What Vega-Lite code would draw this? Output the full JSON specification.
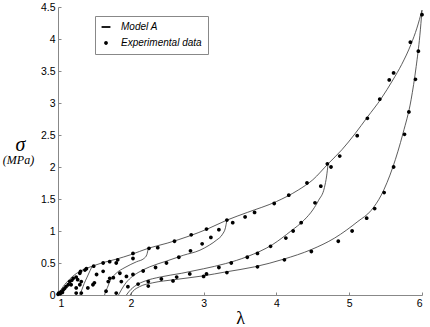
{
  "$schema": "https://vega.github.io/schema/vega-lite/v6.json",
  "width": 364,
  "height": 288,
  "autosize": {"type": "none"},
  "padding": {"left": 58, "top": 7, "right": 8, "bottom": 32},
  "background": "white",
  "config": {
    "view": {"stroke": null},
    "axis": {
      "domainColor": "#888",
      "tickColor": "#888",
      "grid": false,
      "labelFont": "Liberation Sans",
      "labelFontSize": 10.5,
      "labelColor": "black",
      "tickSize": -3,
      "labelPadding": 6,
      "format": "~g"
    }
  },
  "datasets": {
    "curves": [
      {"c": "env", "x": 1.00, "y": 0.00}, {"c": "env", "x": 1.03, "y": 0.06}, {"c": "env", "x": 1.07, "y": 0.13},
      {"c": "env", "x": 1.12, "y": 0.20}, {"c": "env", "x": 1.20, "y": 0.29}, {"c": "env", "x": 1.30, "y": 0.37},
      {"c": "env", "x": 1.40, "y": 0.42}, {"c": "env", "x": 1.47, "y": 0.45}, {"c": "env", "x": 1.60, "y": 0.50},
      {"c": "env", "x": 1.80, "y": 0.56}, {"c": "env", "x": 2.00, "y": 0.63}, {"c": "env", "x": 2.24, "y": 0.73},
      {"c": "env", "x": 2.50, "y": 0.81}, {"c": "env", "x": 2.80, "y": 0.92}, {"c": "env", "x": 3.05, "y": 1.03},
      {"c": "env", "x": 3.32, "y": 1.17}, {"c": "env", "x": 3.60, "y": 1.29}, {"c": "env", "x": 4.00, "y": 1.46},
      {"c": "env", "x": 4.30, "y": 1.64}, {"c": "env", "x": 4.50, "y": 1.80}, {"c": "env", "x": 4.71, "y": 2.05},
      {"c": "env", "x": 4.90, "y": 2.27}, {"c": "env", "x": 5.08, "y": 2.52}, {"c": "env", "x": 5.25, "y": 2.78},
      {"c": "env", "x": 5.44, "y": 3.07}, {"c": "env", "x": 5.60, "y": 3.36}, {"c": "env", "x": 5.72, "y": 3.60},
      {"c": "env", "x": 5.85, "y": 3.92}, {"c": "env", "x": 5.93, "y": 4.17}, {"c": "env", "x": 6.00, "y": 4.45},
      {"c": "u1", "x": 1.47, "y": 0.45}, {"c": "u1", "x": 1.44, "y": 0.38}, {"c": "u1", "x": 1.40, "y": 0.28},
      {"c": "u1", "x": 1.36, "y": 0.18}, {"c": "u1", "x": 1.33, "y": 0.09}, {"c": "u1", "x": 1.30, "y": 0.00},
      {"c": "u2", "x": 2.24, "y": 0.73}, {"c": "u2", "x": 2.22, "y": 0.63}, {"c": "u2", "x": 2.18, "y": 0.57},
      {"c": "u2", "x": 2.08, "y": 0.52}, {"c": "u2", "x": 1.92, "y": 0.43}, {"c": "u2", "x": 1.80, "y": 0.34},
      {"c": "u2", "x": 1.72, "y": 0.23}, {"c": "u2", "x": 1.68, "y": 0.12}, {"c": "u2", "x": 1.65, "y": 0.04},
      {"c": "u2", "x": 1.64, "y": 0.00},
      {"c": "u3", "x": 3.32, "y": 1.17}, {"c": "u3", "x": 3.30, "y": 1.05}, {"c": "u3", "x": 3.26, "y": 0.95},
      {"c": "u3", "x": 3.18, "y": 0.86}, {"c": "u3", "x": 3.08, "y": 0.78}, {"c": "u3", "x": 2.95, "y": 0.70},
      {"c": "u3", "x": 2.72, "y": 0.62}, {"c": "u3", "x": 2.49, "y": 0.53}, {"c": "u3", "x": 2.26, "y": 0.44},
      {"c": "u3", "x": 2.10, "y": 0.35}, {"c": "u3", "x": 2.00, "y": 0.27}, {"c": "u3", "x": 1.92, "y": 0.17},
      {"c": "u3", "x": 1.87, "y": 0.08}, {"c": "u3", "x": 1.83, "y": 0.00},
      {"c": "u4", "x": 4.71, "y": 2.05}, {"c": "u4", "x": 4.69, "y": 1.86}, {"c": "u4", "x": 4.66, "y": 1.68},
      {"c": "u4", "x": 4.58, "y": 1.48}, {"c": "u4", "x": 4.50, "y": 1.33}, {"c": "u4", "x": 4.38, "y": 1.17},
      {"c": "u4", "x": 4.20, "y": 1.00}, {"c": "u4", "x": 3.95, "y": 0.79}, {"c": "u4", "x": 3.60, "y": 0.60},
      {"c": "u4", "x": 3.30, "y": 0.49}, {"c": "u4", "x": 3.00, "y": 0.41}, {"c": "u4", "x": 2.70, "y": 0.34},
      {"c": "u4", "x": 2.40, "y": 0.28}, {"c": "u4", "x": 2.20, "y": 0.22}, {"c": "u4", "x": 2.07, "y": 0.15},
      {"c": "u4", "x": 1.98, "y": 0.06}, {"c": "u4", "x": 1.94, "y": 0.00},
      {"c": "u5", "x": 6.00, "y": 4.45}, {"c": "u5", "x": 5.97, "y": 4.05}, {"c": "u5", "x": 5.92, "y": 3.57},
      {"c": "u5", "x": 5.85, "y": 3.05}, {"c": "u5", "x": 5.74, "y": 2.53}, {"c": "u5", "x": 5.60, "y": 2.00},
      {"c": "u5", "x": 5.44, "y": 1.56}, {"c": "u5", "x": 5.30, "y": 1.32}, {"c": "u5", "x": 5.12, "y": 1.15},
      {"c": "u5", "x": 4.80, "y": 0.89}, {"c": "u5", "x": 4.48, "y": 0.71}, {"c": "u5", "x": 4.10, "y": 0.56},
      {"c": "u5", "x": 3.70, "y": 0.44}, {"c": "u5", "x": 3.30, "y": 0.36}, {"c": "u5", "x": 3.00, "y": 0.30},
      {"c": "u5", "x": 2.60, "y": 0.24}, {"c": "u5", "x": 2.30, "y": 0.19}, {"c": "u5", "x": 2.12, "y": 0.13},
      {"c": "u5", "x": 2.03, "y": 0.06}, {"c": "u5", "x": 1.99, "y": 0.00}
    ],
    "pts": [
      {"x": 1.00, "y": 0.01}, {"x": 1.01, "y": 0.03}, {"x": 1.03, "y": 0.02}, {"x": 1.04, "y": 0.05},
      {"x": 1.06, "y": 0.04}, {"x": 1.07, "y": 0.08}, {"x": 1.09, "y": 0.10}, {"x": 1.11, "y": 0.13},
      {"x": 1.14, "y": 0.16}, {"x": 1.16, "y": 0.21}, {"x": 1.19, "y": 0.23}, {"x": 1.21, "y": 0.26},
      {"x": 1.25, "y": 0.28}, {"x": 1.30, "y": 0.34}, {"x": 1.31, "y": 0.37}, {"x": 1.37, "y": 0.39},
      {"x": 1.39, "y": 0.41}, {"x": 1.49, "y": 0.45}, {"x": 1.62, "y": 0.50}, {"x": 1.71, "y": 0.52},
      {"x": 1.82, "y": 0.55}, {"x": 2.03, "y": 0.65}, {"x": 2.25, "y": 0.73}, {"x": 2.37, "y": 0.74},
      {"x": 2.60, "y": 0.84}, {"x": 2.83, "y": 0.94}, {"x": 3.04, "y": 1.03}, {"x": 3.32, "y": 1.17},
      {"x": 3.40, "y": 1.13}, {"x": 3.57, "y": 1.22}, {"x": 3.70, "y": 1.29}, {"x": 3.97, "y": 1.43},
      {"x": 4.17, "y": 1.56}, {"x": 4.42, "y": 1.75}, {"x": 4.70, "y": 2.05}, {"x": 4.75, "y": 2.00},
      {"x": 4.87, "y": 2.17}, {"x": 5.11, "y": 2.49}, {"x": 5.25, "y": 2.76}, {"x": 5.42, "y": 3.06},
      {"x": 5.55, "y": 3.36}, {"x": 5.61, "y": 3.47}, {"x": 5.84, "y": 3.95}, {"x": 6.00, "y": 4.38},
      {"x": 5.95, "y": 3.81}, {"x": 5.91, "y": 3.37}, {"x": 5.82, "y": 2.86}, {"x": 5.76, "y": 2.51},
      {"x": 5.61, "y": 2.00}, {"x": 5.48, "y": 1.60}, {"x": 5.35, "y": 1.35}, {"x": 5.24, "y": 1.20},
      {"x": 5.04, "y": 1.00}, {"x": 4.85, "y": 0.84}, {"x": 4.48, "y": 0.68}, {"x": 4.11, "y": 0.55},
      {"x": 3.74, "y": 0.44}, {"x": 3.32, "y": 0.35}, {"x": 3.00, "y": 0.29}, {"x": 2.58, "y": 0.22},
      {"x": 2.24, "y": 0.14}, {"x": 4.61, "y": 1.70}, {"x": 4.53, "y": 1.44}, {"x": 4.34, "y": 1.13},
      {"x": 4.23, "y": 1.00}, {"x": 4.13, "y": 0.89}, {"x": 3.92, "y": 0.76}, {"x": 3.74, "y": 0.65},
      {"x": 3.60, "y": 0.59}, {"x": 3.38, "y": 0.50}, {"x": 3.21, "y": 0.43}, {"x": 3.04, "y": 0.33},
      {"x": 2.81, "y": 0.33}, {"x": 2.63, "y": 0.28}, {"x": 2.42, "y": 0.25}, {"x": 2.24, "y": 0.21},
      {"x": 2.10, "y": 0.17}, {"x": 1.96, "y": 0.13}, {"x": 3.21, "y": 1.02}, {"x": 3.10, "y": 0.90},
      {"x": 2.98, "y": 0.80}, {"x": 2.82, "y": 0.69}, {"x": 2.66, "y": 0.59}, {"x": 2.49, "y": 0.50},
      {"x": 2.34, "y": 0.43}, {"x": 2.17, "y": 0.375}, {"x": 2.03, "y": 0.32}, {"x": 2.03, "y": 0.57},
      {"x": 1.94, "y": 0.29}, {"x": 1.85, "y": 0.34}, {"x": 1.80, "y": 0.50}, {"x": 1.76, "y": 0.27},
      {"x": 1.71, "y": 0.26}, {"x": 1.62, "y": 0.37}, {"x": 1.69, "y": 0.21}, {"x": 1.87, "y": 0.21},
      {"x": 1.66, "y": 0.06}, {"x": 1.80, "y": 0.03}, {"x": 1.53, "y": 0.32}, {"x": 1.50, "y": 0.19},
      {"x": 1.48, "y": 0.16}, {"x": 1.41, "y": 0.11}, {"x": 1.32, "y": 0.21}, {"x": 1.30, "y": 0.16},
      {"x": 1.27, "y": 0.24}, {"x": 1.25, "y": 0.11}, {"x": 1.18, "y": 0.16}, {"x": 1.25, "y": 0.03},
      {"x": 1.32, "y": 0.03}
    ]
  },
  "layer": [
    {
      "data": {"name": "curves"},
      "mark": {"type": "line", "color": "#333", "strokeWidth": 0.8, "interpolate": "monotone", "clip": false},
      "encoding": {
        "x": {
          "field": "x", "type": "quantitative",
          "scale": {"domain": [1, 6], "nice": false, "zero": false},
          "axis": {
            "values": [1, 2, 3, 4, 5, 6],
            "title": "λ",
            "titleFont": "Liberation Serif",
            "titleFontSize": 18,
            "titleFontWeight": "normal",
            "titlePadding": 1
          }
        },
        "y": {
          "field": "y", "type": "quantitative",
          "scale": {"domain": [0, 4.5], "nice": false},
          "axis": {
            "values": [0, 0.5, 1, 1.5, 2, 2.5, 3, 3.5, 4, 4.5],
            "title": "σ",
            "titleFont": "Liberation Serif",
            "titleFontStyle": "italic",
            "titleFontWeight": "normal",
            "titleFontSize": 20,
            "titleAngle": 0,
            "titleAlign": "center",
            "titleBaseline": "middle",
            "titleX": -38,
            "titleY": 137
          }
        },
        "detail": {"field": "c"}
      }
    },
    {
      "data": {"name": "pts"},
      "mark": {"type": "point", "filled": true, "color": "black", "opacity": 1, "size": 40, "strokeWidth": 0, "clip": false},
      "encoding": {
        "x": {"field": "x", "type": "quantitative"},
        "y": {
          "field": "y", "type": "quantitative",
          "axis": {
            "orient": "left",
            "title": "(MPa)",
            "labels": false,
            "ticks": false,
            "domain": false,
            "titleFont": "Liberation Serif",
            "titleFontStyle": "italic",
            "titleFontWeight": "normal",
            "titleFontSize": 12,
            "titleAngle": 0,
            "titleAlign": "center",
            "titleBaseline": "middle",
            "titleX": -40,
            "titleY": 152
          }
        },
        "shape": {
          "datum": "Experimental data",
          "type": "nominal",
          "scale": {
            "domain": ["Model A", "Experimental data"],
            "range": ["M-1.4,-0.28L1.4,-0.28L1.4,0.28L-1.4,0.28Z", "M-0.6,0a0.6,0.6 0 1,0 1.2,0a0.6,0.6 0 1,0 -1.2,0"]
          },
          "legend": {
            "title": null,
            "orient": "none",
            "legendX": 37,
            "legendY": 9,
            "strokeColor": "#888",
            "fillColor": "white",
            "padding": 6,
            "labelFont": "Liberation Sans",
            "labelFontStyle": "italic",
            "labelFontSize": 10,
            "labelColor": "black",
            "symbolSize": 40,
            "symbolFillColor": "black",
            "symbolOpacity": 1,
            "rowPadding": 6,
            "labelOffset": 10
          }
        }
      }
    }
  ],
  "resolve": {"axis": {"y": "independent"}}
}
